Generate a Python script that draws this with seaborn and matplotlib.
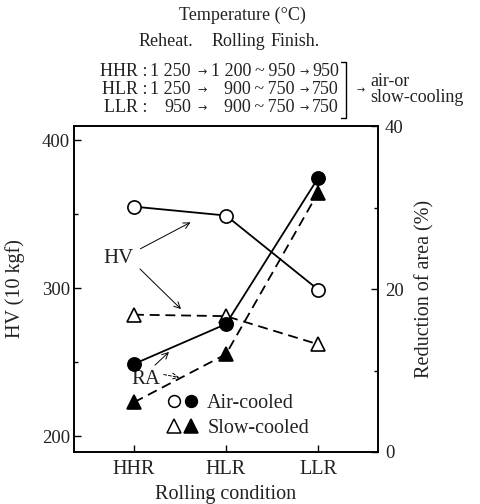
import matplotlib
matplotlib.use("Agg")
import matplotlib.pyplot as plt
from matplotlib.lines import Line2D
from matplotlib.legend_handler import HandlerTuple
import seaborn as sns
import pandas as pd

# ---- data ----
conditions = ["HHR", "HLR", "LLR"]
hv_air = [355, 349, 299]
hv_slow = [282, 281, 262]
ra_air = [10.8, 15.7, 33.6]
ra_slow = [6.1, 12.0, 31.8]
cooling = ["Air-cooled", "Slow-cooled"]

table_rows = ["HHR", "HLR", "LLR"]
reheat_t = ["1 250", "1 250", "950"]
rolling_t = ["1 200\u2009~\u2009950", "900\u2009~\u2009750", "900\u2009~\u2009750"]
finish_t = ["950", "750", "750"]

pos = list(range(len(conditions)))
df = pd.DataFrame({
    "pos": pos * 2,
    "cond": conditions * 2,
    "cooling": [cooling[0]] * 3 + [cooling[1]] * 3,
    "HV": hv_air + hv_slow,
    "RA": ra_air + ra_slow,
})

sns.set_theme(style="ticks")
plt.rcParams["font.family"] = ["Liberation Serif", "DejaVu Serif"]
plt.rcParams["mathtext.fontset"] = "dejavuserif"

W, H = 480, 504
fig = plt.figure(figsize=(W / 100, H / 100), dpi=100)

def px(x, y):
    return x / W, 1 - y / H

L, R, T, B = 74, 378, 126, 452
ax = fig.add_axes([L / W, 1 - B / H, (R - L) / W, (B - T) / H])
ax2 = ax.twinx()

dash_map = {cooling[0]: "", cooling[1]: (5.5, 3.2)}
mk_map = {cooling[0]: "o", cooling[1]: "^"}

sns.lineplot(data=df, x="pos", y="HV", style="cooling", markers=mk_map,
             dashes=dash_map, color="black", lw=1.3, ms=9.5, mfc="white",
             mec="black", mew=1.2, legend=False, ax=ax, sort=False)
sns.lineplot(data=df, x="pos", y="RA", style="cooling", markers=mk_map,
             dashes=dash_map, color="black", lw=1.3, ms=9.5, mfc="black",
             mec="black", mew=1.2, legend=False, ax=ax2, sort=False)

# scales
ax.set_xlim(-0.652, 2.652)
ax.set_ylim(189.2, 409.5)
ax2.set_ylim(0, 39.6)

ax.set_xticks(pos)
ax.set_xticklabels(conditions)
ax.set_yticks([200, 300, 400])
ax.set_yticks([250, 350], minor=True)
ax2.set_yticks([0, 20, 40])
ax2.set_yticks([10, 30], minor=True)

tfs = 13.5
for a in (ax, ax2):
    a.tick_params(axis="both", which="both", direction="in", color="black",
                  labelsize=tfs, labelcolor="#222222", width=1.0)
    a.tick_params(which="major", length=5)
    a.tick_params(which="minor", length=3)
    for s in a.spines.values():
        s.set_color("black")
        s.set_linewidth(1.2)
ax.tick_params(axis="x", pad=6, labelsize=14.5)
ax.tick_params(axis="y", pad=3)
ax2.tick_params(axis="y", pad=5)

lfs = 14.5
ax.set_xlabel("Rolling condition", fontsize=lfs, labelpad=4, color="#222222")
ax.set_ylabel("HV (10 kgf)", fontsize=lfs, labelpad=12, color="#222222")
ax2.set_ylabel("Reduction of area (%)", fontsize=lfs, labelpad=8,
               color="#222222", rotation=90)

# ---- annotations (in left-axis data coords) ----
def dx(x):
    return (x - 134) / 92.0

def dy(y):
    return 200 + (436 - y) / 1.48

arrow_kw = dict(arrowstyle="->", color="black", lw=0.7, mutation_scale=11)
ax.text(dx(119), dy(258), "HV", ha="center", va="center", fontsize=15,
        color="#222222")
ax.annotate("", xy=(dx(193), dy(221)), xytext=(dx(138), dy(250)),
            arrowprops=arrow_kw)
ax.annotate("", xy=(dx(183), dy(311)), xytext=(dx(138), dy(267)),
            arrowprops=arrow_kw)
ax.text(dx(146), dy(379), "RA", ha="center", va="center", fontsize=15,
        color="#222222")
ax.annotate("", xy=(dx(171), dy(350)), xytext=(dx(153), dy(367)),
            arrowprops=arrow_kw)
ax.annotate("", xy=(dx(182), dy(378)), xytext=(dx(161), dy(374)),
            arrowprops=dict(arrowstyle="->", color="black", lw=0.7,
                            mutation_scale=11, linestyle=(0, (3, 2))))

# ---- legend ----
h_air = (Line2D([], [], ls="", marker="o", ms=8.5, mfc="white", mec="black", mew=1.1),
         Line2D([], [], ls="", marker="o", ms=8.5, mfc="black", mec="black", mew=1.1))
h_slow = (Line2D([], [], ls="", marker="^", ms=10, mfc="white", mec="black", mew=1.1),
          Line2D([], [], ls="", marker="^", ms=10, mfc="black", mec="black", mew=1.1))
ax.legend([h_air, h_slow], cooling, handler_map={tuple: HandlerTuple(ndivide=None, pad=0.2)},
          loc="upper left", bbox_to_anchor=((167 - L) / (R - L), (B - 394) / (B - T)),
          frameon=False, fontsize=14.5, handlelength=1.5, handletextpad=0.5,
          labelspacing=0.3, borderpad=0, borderaxespad=0, labelcolor="#222222")

# ---- header table ----
fs = 13
tc = "#222222"
fig.text(*px(242, 15), "Temperature (°C)", ha="center", va="center", fontsize=fs, color=tc)
fig.text(*px(166, 42), "Reheat.", ha="center", va="center", fontsize=fs, color=tc)
fig.text(*px(238, 42), "Rolling", ha="center", va="center", fontsize=fs, color=tc)
fig.text(*px(295, 42), "Finish.", ha="center", va="center", fontsize=fs, color=tc)
row_y = [72, 90, 108]
for name, rh, rl, fn, yy in zip(table_rows, reheat_t, rolling_t, finish_t, row_y):
    fig.text(*px(148, yy), f"{name} :", ha="right", va="center", fontsize=fs, color=tc)
    fig.text(*px(191, yy), rh, ha="right", va="center", fontsize=fs, color=tc)
    fig.text(*px(202, yy), "→", ha="center", va="center", fontsize=8, color=tc,
             family=["DejaVu Sans"])
    fig.text(*px(295, yy), rl, ha="right", va="center", fontsize=fs, color=tc)
    fig.text(*px(304, yy), "→", ha="center", va="center", fontsize=8, color=tc,
             family=["DejaVu Sans"])
    fig.text(*px(339, yy), fn, ha="right", va="center", fontsize=fs, color=tc)

# brace
bx0, _ = px(341, 0)
bx1, _ = px(346, 0)
_, by0 = px(0, 62)
_, by1 = px(0, 118)
fig.add_artist(Line2D([bx0, bx1, bx1, bx0], [by0, by0, by1, by1],
                      transform=fig.transFigure, color="black", lw=1.0))
fig.text(*px(361, 90), "→", ha="center", va="center", fontsize=7, color=tc,
         family=["DejaVu Sans"])
fig.text(*px(370, 82), "air-or", ha="left", va="center", fontsize=fs, color=tc)
fig.text(*px(370, 98), "slow-cooling", ha="left", va="center", fontsize=fs, color=tc)

fig.savefig("out.png", dpi=100, facecolor="white")
